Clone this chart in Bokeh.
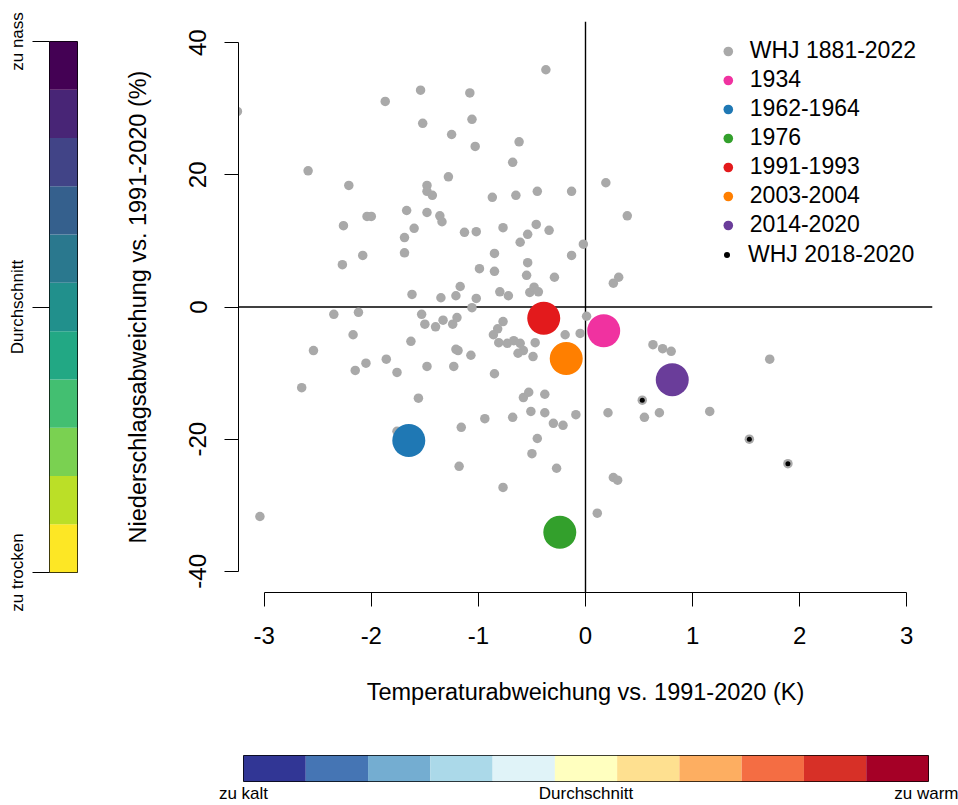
import math
from bokeh.plotting import figure
from bokeh.layouts import column, row
from bokeh.models import Span, Legend, LegendItem, FixedTicker, ColumnDataSource
from bokeh.embed import file_html
from bokeh.resources import INLINE

FONT = "Liberation Sans"

# ---- data ----
whj_x = [-3.25, -0.37, -1.54, -1.08, -1.87, -1.52, -1.06, -1.25, -1.03, -0.62,
         -0.68, -2.59, -1.28, -2.21, -1.48, -1.48, -1.43, -0.87, -0.65, -0.45,
         -0.13, -1.67, -1.48, -2.04, -2.00, -1.36, -1.34, -2.26, -1.60, -1.69,
         -1.13, -1.02, -0.77, -0.46, -0.54, -0.61, -0.34, -0.02, -1.69, -2.08,
         -2.27, -0.85, -0.13, -0.99, -0.54, -0.85, -0.55, -0.29, -1.17, -1.62,
         -1.35, -1.21, -1.02, -0.80, -0.72, -0.52, -0.48, -0.44, -1.06, 0.19,
         0.39, 0.26, 0.31, -2.35, -2.12, -1.53, -1.50, -1.40, -1.33, -1.24,
         -1.20, 0.01, -0.77, -0.82, -0.86, -0.81, -0.73, -0.67, -0.61, -0.58,
         -0.63, -0.47, -0.49, -0.19, -0.05, -1.21, -1.19, -1.07, -1.48, -1.23,
         -0.85, -1.56, -0.58, -0.53, -0.38, -0.94, -0.68, -0.51, -0.38, -0.30,
         -0.21, -0.09, 0.21, -1.16, -0.45, -0.50, -1.18, -0.27, -0.77, 0.26,
         0.30, 0.11, -2.17, -2.54, -1.63, -2.05, -2.15, -1.86, -1.76, -2.65,
         -1.76, -3.04, 0.63, 0.72, 0.80, 1.72, 0.55, 0.69, 1.16, 0.53,
         1.53, 1.89, 0.17, -0.24]
whj_y = [29.6, 35.9, 32.8, 32.4, 31.1, 27.8, 28.4, 26.1, 24.3, 25.0,
         21.9, 20.6, 19.7, 18.4, 18.4, 17.5, 16.9, 16.6, 16.9, 17.5,
         17.5, 14.6, 14.3, 13.7, 13.7, 13.8, 12.9, 12.3, 11.9, 10.5,
         11.3, 11.4, 12.0, 12.5, 11.0, 9.8, 11.6, 9.5, 8.2, 7.8,
         6.4, 8.1, 7.8, 5.8, 6.7, 5.4, 4.8, 4.5, 3.1, 1.9,
         1.4, 1.7, 1.3, 2.3, 1.7, 2.2, 3.0, 2.3, -0.1, 18.8,
         13.8, 3.6, 4.5, -1.1, -0.8, -1.1, -2.6, -3.0, -2.0, -2.6,
         -1.6, -1.4, -2.2, -3.3, -4.2, -5.4, -5.5, -5.1, -5.5, -6.6,
         -7.0, -5.4, -7.5, -4.2, -4.0, -6.4, -6.6, -7.3, -9.0, -9.0,
         -10.1, -13.8, -13.7, -12.9, -13.2, -16.9, -16.7, -15.8, -16.0, -17.6,
         -17.9, -16.3, -16.0, -18.2, -19.9, -22.2, -24.1, -24.4, -27.3, -25.8,
         -26.2, -31.2, -4.2, -6.6, -5.2, -8.5, -9.6, -7.9, -9.9, -12.2,
         -18.8, -31.7, -5.7, -6.3, -6.7, -7.9, -16.7, -16.0, -15.8, -14.1,
         -20.0, -23.7, -3.6, -34.1]

recent_x = [0.53, 1.53, 1.89]
recent_y = [-14.1, -20.0, -23.7]

event_labels = ["1934", "1962-1964", "1976", "1991-1993", "2003-2004", "2014-2020"]
event_x = [0.17, -1.65, -0.24, -0.39, -0.18, 0.81]
event_y = [-3.6, -20.2, -34.1, -1.7, -7.8, -11.0]
event_colors = ["#F032A0", "#1F78B4", "#33A02C", "#E31A1C", "#FF7F00", "#6A3D9A"]

x_ticks = [-3, -2, -1, 0, 1, 2, 3]
y_ticks = [-40, -20, 0, 20, 40]

# colour scales (bottom -> top, left -> right)
prec_colors = ["#FDE725", "#BBDF27", "#7AD151", "#43BF71", "#22A884", "#21908C",
               "#2A788E", "#35608D", "#414487", "#482576", "#440154"]
prec_ticks = [0, 5.5, 11]
prec_labels = ["zu trocken", "Durchschnitt", "zu nass"]

temp_colors = ["#313695", "#4575B4", "#74ADD1", "#ABD9E9", "#E0F3F8", "#FFFFBF",
               "#FEE090", "#FDAE61", "#F46D43", "#D73027", "#A50026"]
temp_ticks = [0, 5.5, 11]
temp_labels = ["zu kalt", "Durchschnitt", "zu warm"]

# ---- main scatter figure ----
p = figure(width=858, height=710, x_range=(-3.24, 3.24), y_range=(-43.2, 43.2),
           output_backend="svg", toolbar_location=None, frame_align=False,
           min_border_left=138, min_border_right=26, min_border_top=21, min_border_bottom=118)
p.outline_line_color = None
p.grid.visible = False

for ax, ticks, bnds in ((p.xaxis[0], x_ticks, (-3, 3)), (p.yaxis[0], y_ticks, (-40, 40))):
    ax.ticker = FixedTicker(ticks=ticks)
    ax.bounds = bnds
    ax.major_label_overrides = {t: str(t) for t in ticks}
    ax.major_tick_out = 14
    ax.major_tick_in = 0
    ax.minor_tick_out = 0
    ax.minor_tick_in = 0
    ax.axis_line_color = "black"
    ax.major_tick_line_color = "black"
    ax.major_label_text_font = FONT
    ax.major_label_text_font_size = "24px"
    ax.major_label_text_color = "black"
    ax.axis_label_text_font = FONT
    ax.axis_label_text_font_size = "23.5px"
    ax.axis_label_text_font_style = "normal"
    ax.axis_label_text_color = "black"

p.xaxis.major_label_standoff = 20
p.xaxis.axis_label_standoff = 32
p.yaxis.major_label_standoff = 18
p.yaxis.axis_label_standoff = 36
p.xaxis.axis_label = "Temperaturabweichung vs. 1991-2020 (K)"
p.yaxis.axis_label = "Niederschlagsabweichung vs. 1991-2020 (%)"
p.yaxis.major_label_orientation = "parallel"

p.add_layout(Span(location=0, dimension="width", line_color="black", line_width=1.4, level="underlay"))
p.add_layout(Span(location=0, dimension="height", line_color="black", line_width=1.4, level="underlay"))

r_gray = p.scatter(whj_x, whj_y, size=9.5, fill_color="#A9A9A9", line_color=None)
ev_src = ColumnDataSource(dict(x=event_x, y=event_y, c=event_colors, label=event_labels))
r_ev = p.scatter("x", "y", source=ev_src, size=33, fill_color="c", line_color=None)
r_black = p.scatter(recent_x, recent_y, size=5, fill_color="black", line_color=None)

items = [LegendItem(label="WHJ 1881-2022", renderers=[r_gray])]
for i, lab in enumerate(event_labels):
    items.append(LegendItem(label=lab, renderers=[r_ev], index=i))
leg1 = Legend(items=items, location="top_right", glyph_width=24, glyph_height=24,
              label_standoff=10, spacing=2, padding=5, margin=16,
              border_line_color=None, background_fill_alpha=0,
              label_text_font=FONT, label_text_font_size="23px", label_text_color="black")
p.add_layout(leg1)
leg2 = Legend(items=[LegendItem(label="WHJ 2018-2020", renderers=[r_black])],
              location=(481, 324), glyph_width=15, glyph_height=15,
              label_standoff=14, spacing=0, padding=5, margin=0,
              border_line_color=None, background_fill_alpha=0,
              label_text_font=FONT, label_text_font_size="23px", label_text_color="black")
p.add_layout(leg2)

# ---- left colour bar (precipitation) ----
pl = figure(width=100, height=710, x_range=(0, 1), y_range=(0, 11),
            output_backend="svg", toolbar_location=None, x_axis_location=None, frame_align=False,
            min_border_left=49, min_border_right=23, min_border_top=41, min_border_bottom=138)
pl.grid.visible = False
pl.outline_line_color = "black"
pl.outline_line_width = 1
pl.quad(left=0, right=1, bottom=list(range(11)), top=list(range(1, 12)),
        fill_color=prec_colors, line_color=None)
ya = pl.yaxis[0]
ya.ticker = FixedTicker(ticks=prec_ticks)
ya.major_label_overrides = dict(zip(prec_ticks, prec_labels))
ya.major_tick_out = 17
ya.major_tick_in = 0
ya.minor_tick_out = 0
ya.minor_tick_in = 0
ya.axis_line_color = None
ya.major_tick_line_color = "black"
ya.major_label_orientation = "parallel"
ya.major_label_standoff = 6
ya.major_label_text_font = FONT
ya.major_label_text_font_size = "17px"
ya.major_label_text_color = "black"

# ---- bottom colour bar (temperature) ----
pb = figure(width=958, height=95, x_range=(0, 11), y_range=(0, 1),
            output_backend="svg", toolbar_location=None, frame_align=False,
            x_axis_location="below", y_axis_location=None,
            min_border_left=243, min_border_right=30, min_border_top=45, min_border_bottom=22)
pb.grid.visible = False
pb.outline_line_color = "black"
pb.outline_line_width = 1
pb.quad(left=list(range(11)), right=list(range(1, 12)), bottom=0, top=1,
        fill_color=temp_colors, line_color=None)
xa = pb.xaxis[0]
xa.ticker = FixedTicker(ticks=temp_ticks)
xa.major_label_overrides = dict(zip(temp_ticks, temp_labels))
xa.major_tick_out = 0
xa.major_tick_in = 0
xa.minor_tick_out = 0
xa.minor_tick_in = 0
xa.axis_line_color = None
xa.major_tick_line_color = None
xa.major_label_standoff = 2
xa.major_label_text_font = FONT
xa.major_label_text_font_size = "17px"
xa.major_label_text_color = "black"

layout = column(row(pl, p), pb)
open("out.html", "w").write(file_html(layout, INLINE))
